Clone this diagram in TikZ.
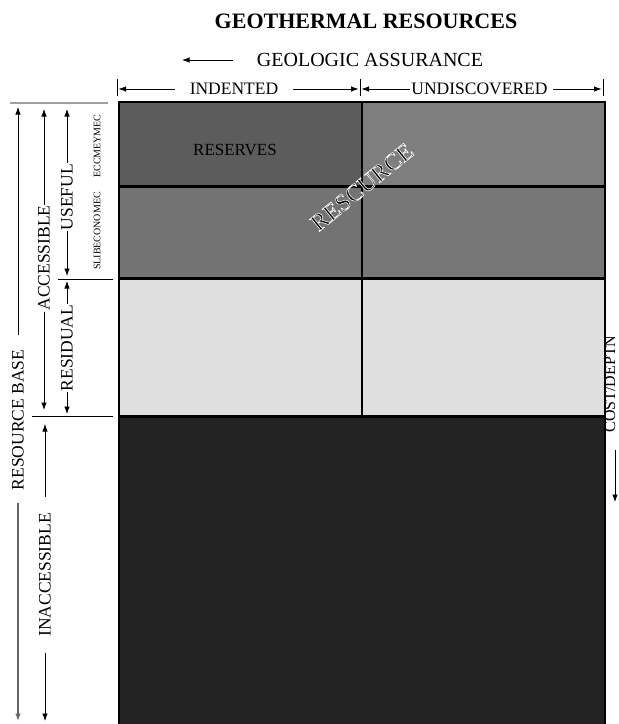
\documentclass[tikz,border=0pt]{standalone}
\usepackage{fontspec}
\setmainfont{Liberation Serif}
\usetikzlibrary{arrows.meta}
\definecolor{resv}{HTML}{5C5C5C}
\definecolor{midg}{HTML}{777777}
\definecolor{lite}{HTML}{DFDFDF}
\definecolor{deep}{HTML}{232323}
\newcommand{\outlinedtext}[1]{\special{pdf:literal direct 2 Tr 0.6 w 1 1 1 RG}#1\special{pdf:literal direct 0 Tr}}
\begin{document}
\begin{tikzpicture}[x=1pt,y=-1pt,
  arr/.style={-{Latex[length=7.5pt,width=5.5pt]}, line width=0.8pt},
  lbl/.style={font=\fontsize{17.5}{18}\selectfont, inner sep=0pt},
  vlbl/.style={lbl, rotate=90},
  small/.style={font=\fontsize{10}{11}\selectfont, inner sep=0pt, rotate=90},
  cell/.style={draw=black, line width=1.6pt, inner sep=0pt, anchor=north west},
  thin/.style={line width=0.8pt}]
\useasboundingbox (0,0) rectangle (619,724);
\fill[white] (0,0) rectangle (619,724);

% cells
\node[cell, fill=resv, minimum width=243pt, minimum height=85pt] (r1c1) at (118,101) {};
\node[cell, fill=midg!95!white, minimum width=243pt, minimum height=85pt] (r1c2) at (361,101) {};
\node[cell, fill=midg!97!black, minimum width=243pt, minimum height=92pt] (r2c1) at (118,186) {};
\node[cell, fill=midg, minimum width=243pt, minimum height=92pt] (r2c2) at (361,186) {};
\node[cell, fill=lite, minimum width=243pt, minimum height=138pt] (r3c1) at (118,278) {};
\node[cell, fill=lite, minimum width=243pt, minimum height=138pt] (r3c2) at (361,278) {};
\node[cell, fill=deep, minimum width=486pt, minimum height=320pt] (r4) at (118,416) {};
\draw[line width=3pt] (r2c1.north west) -- (r2c2.north east);
\draw[line width=2.6pt] (r3c1.north west) -- (r3c2.north east);
\draw[line width=2.8pt] (r4.north west) -- (r4.north east);

% title
\node[font=\fontsize{22}{24}\selectfont\bfseries, inner sep=0pt] (title) at (366,21) {GEOTHERMAL RESOURCES};
\node[font=\fontsize{20}{22}\selectfont, inner sep=0pt] (geo) at (370,60) {GEOLOGIC ASSURANCE};
\coordinate (ga1) at (233,60);
\coordinate (ga2) at (182,60);
\draw[arr] (ga1) -- (ga2);

% top dimension line
\coordinate (tk1a) at (117,79); \coordinate (tk1b) at (117,96);
\coordinate (tk2a) at (360,79); \coordinate (tk2b) at (360,96);
\coordinate (tk3a) at (603,79); \coordinate (tk3b) at (603,96);
\draw[thin] (tk1a) -- (tk1b);
\draw[thin] (tk2a) -- (tk2b);
\draw[thin] (tk3a) -- (tk3b);
\node[lbl] (ind) at (234,89) {INDENTED};
\node[lbl] (und) at (479.5,89) {UNDISCOVERED};
\coordinate (i1) at (175,89); \coordinate (i1e) at (118.5,89);
\coordinate (i2) at (293,89); \coordinate (i2e) at (358.5,89);
\coordinate (u1) at (410,89); \coordinate (u1e) at (361.5,89);
\coordinate (u2) at (553,89); \coordinate (u2e) at (601.5,89);
\draw[arr] (i1) -- (i1e);
\draw[arr] (i2) -- (i2e);
\draw[arr] (u1) -- (u1e);
\draw[arr] (u2) -- (u2e);

% cell texts
\node[font=\fontsize{17}{18}\selectfont, inner sep=0pt] (resv) at (235,150) {RESERVES};
\node[font=\fontsize{24}{26}\selectfont, inner sep=0pt, rotate=39, black] (resc) at (362,187) {\outlinedtext{RESCURCE}};

% left side
\coordinate (gl1) at (10,103); \coordinate (gl2) at (108,103);
\draw[gray!75, line width=2.5pt] (gl1) -- (gl2);
\coordinate (hl1) at (58,279); \coordinate (hl2) at (113,279);
\draw[thin] (hl1) -- (hl2);
\coordinate (hm1) at (32,416); \coordinate (hm2) at (113,416);
\draw[thin] (hm1) -- (hm2);

% resource base
\node[vlbl] (rb) at (18,420) {RESOURCE BASE};
\coordinate (rb1) at (18,335); \coordinate (rb1e) at (18,107);
\coordinate (rb2) at (18,503); \coordinate (rb2e) at (18,721);
\draw[arr] (rb1) -- (rb1e);
\draw[arr, gray!80!black, line width=1.4pt] (rb2) -- (rb2e);

% accessible
\node[vlbl] (acc) at (44,258) {ACCESSIBLE};
\coordinate (ac1) at (44,205); \coordinate (ac1e) at (44,109);
\coordinate (ac2) at (44,312); \coordinate (ac2e) at (44,410);
\draw[arr] (ac1) -- (ac1e);
\draw[arr] (ac2) -- (ac2e);

% useful
\node[vlbl] (use) at (67,197) {USEFUL};
\coordinate (us1) at (67,163); \coordinate (us1e) at (67,109);
\coordinate (us2) at (67,231); \coordinate (us2e) at (67,276);
\draw[arr] (us1) -- (us1e);
\draw[arr] (us2) -- (us2e);

% residual
\node[vlbl] (res) at (67,348) {RESIDUAL};
\coordinate (rs1) at (67,304); \coordinate (rs1e) at (67,281);
\coordinate (rs2) at (67,392); \coordinate (rs2e) at (67,414);
\draw[arr] (rs1) -- (rs1e);
\draw[arr] (rs2) -- (rs2e);

% inaccessible
\node[vlbl] (inacc) at (45,575) {INACCESSIBLE};
\coordinate (in1) at (45,497); \coordinate (in1e) at (45,424);
\coordinate (in2) at (45,653); \coordinate (in2e) at (45,721);
\draw[arr] (in1) -- (in1e);
\draw[arr] (in2) -- (in2e);

% small labels
\node[small] (ecc) at (97,146) {ECCMEYMEC};
\node[small] (sub) at (97,231) {SLIBECONOMEC};

% right side
\node[vlbl, font=\fontsize{16}{17}\selectfont] (cost) at (610,384) {COST/DEPTN};
\coordinate (cd1) at (615,450); \coordinate (cd1e) at (615,502);
\draw[arr] (cd1) -- (cd1e);
\end{tikzpicture}
\end{document}
